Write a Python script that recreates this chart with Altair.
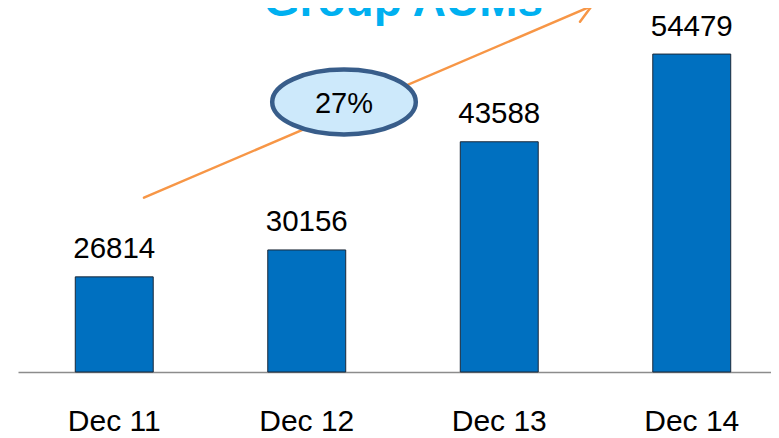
import altair as alt
import pandas as pd

# ---- data ----
categories = ["Dec 11", "Dec 12", "Dec 13", "Dec 14"]
values = [26814, 30156, 43588, 54479]

# value axis (hidden) range in data units
y_floor = 15000
y_top = 60200

# growth arrow (x in category-index units, y in value units)
arrow_x = [0.6545, 2.9803, 2.9803]
arrow_y = [36644, 60448, 60448]
arrow_x2 = [2.9803, 2.8764, 2.9195]
arrow_y2 = [60448, 60697, 58499]

# growth badge
badge_x = [1.6935]
badge_y = [48528]
badge_label = ["27%"]
badge_label_y = [47124]

# title (cut off at the top in the reference)
title_text = ["Group AUMs"]
title_x = [2.0026]
title_y = [59200]

# ---- tables ----
bars_df = pd.DataFrame({"cat": categories, "val": values})
arrow_df = pd.DataFrame({"x": arrow_x, "y": arrow_y, "x2": arrow_x2, "y2": arrow_y2})
badge_df = pd.DataFrame({"x": badge_x, "y": badge_y, "label": badge_label, "ly": badge_label_y})
title_df = pd.DataFrame({"x": title_x, "y": title_y, "t": title_text})

FONT = "Liberation Sans"
RANGE_W = 770

y_scale = alt.Scale(domain=[y_floor, y_top], zero=False, nice=False)
xq_scale = alt.Scale(domain=[0, len(categories)], range=[0, RANGE_W], zero=False, nice=False)
xb_scale = alt.Scale(range=[0, RANGE_W], paddingInner=0.595, paddingOuter=0.2975)

x_band = alt.X(
    "cat:N",
    sort=categories,
    scale=xb_scale,
    axis=alt.Axis(
        title=None,
        labelAngle=0,
        labelFont=FONT,
        labelFontSize=30,
        labelColor="#000000",
        labelBaseline="alphabetic",
        labelPadding=58,
        ticks=False,
        tickSize=0,
        grid=False,
        domainColor="#8C8C8C",
        domainWidth=1.5,
    ),
)

bars = alt.Chart(bars_df).mark_bar(
    color="#0070C0", stroke="#1B2838", strokeWidth=1
).encode(
    x=x_band,
    y=alt.Y("val:Q", scale=y_scale, axis=None),
    y2=alt.datum(y_floor),
)

value_labels = alt.Chart(bars_df).mark_text(
    font=FONT, fontSize=29.5, color="#000000", baseline="alphabetic", align="center", dy=-18.5
).encode(
    x=alt.X("cat:N", sort=categories, scale=xb_scale, axis=None),
    y=alt.Y("val:Q", scale=y_scale, axis=None),
    text="val:Q",
)

arrow = alt.Chart(arrow_df).mark_rule(
    color="#F79646", strokeWidth=2.5, strokeCap="round"
).encode(
    x=alt.X("x:Q", scale=xq_scale, axis=None),
    x2="x2:Q",
    y=alt.Y("y:Q", scale=y_scale, axis=None),
    y2="y2:Q",
)

k = 0.5523
r = 0.451
kr = round(k * r, 4)
ellipse_path = (
    f"M 1 0 C 1 {kr} {k} {r} 0 {r} C {-k} {r} -1 {kr} -1 0 "
    f"C -1 {-kr} {-k} {-r} 0 {-r} C {k} {-r} 1 {-kr} 1 0 Z"
)

badge = alt.Chart(badge_df).mark_point(
    shape=ellipse_path, filled=True, fill="#CDE9FB", stroke="#385D8A",
    strokeWidth=4.5, size=20621, opacity=1
).encode(
    x=alt.X("x:Q", scale=xq_scale, axis=None),
    y=alt.Y("y:Q", scale=y_scale, axis=None),
)

badge_text = alt.Chart(badge_df).mark_text(
    font=FONT, fontSize=29, color="#000000", baseline="alphabetic", align="center"
).encode(
    x=alt.X("x:Q", scale=xq_scale, axis=None),
    y=alt.Y("ly:Q", scale=y_scale, axis=None),
    text="label:N",
)

title = alt.Chart(title_df).mark_text(
    font=FONT, fontSize=46, fontWeight="bold", color="#00B0F0",
    baseline="alphabetic", align="center"
).encode(
    x=alt.X("x:Q", scale=xq_scale, axis=None),
    y=alt.Y("y:Q", scale=y_scale, axis=None),
    text="t:N",
)

chart = alt.layer(
    bars, value_labels, arrow, badge, badge_text, title
).resolve_scale(
    x="independent"
).properties(
    width=753,
    height=364,
    autosize=alt.AutoSizeParams(type="none"),
    padding={"left": 10, "top": 0, "right": 0, "bottom": 66},
).configure_view(stroke=None)

chart.save("out.html", embed_options={"renderer": "svg", "actions": False})
